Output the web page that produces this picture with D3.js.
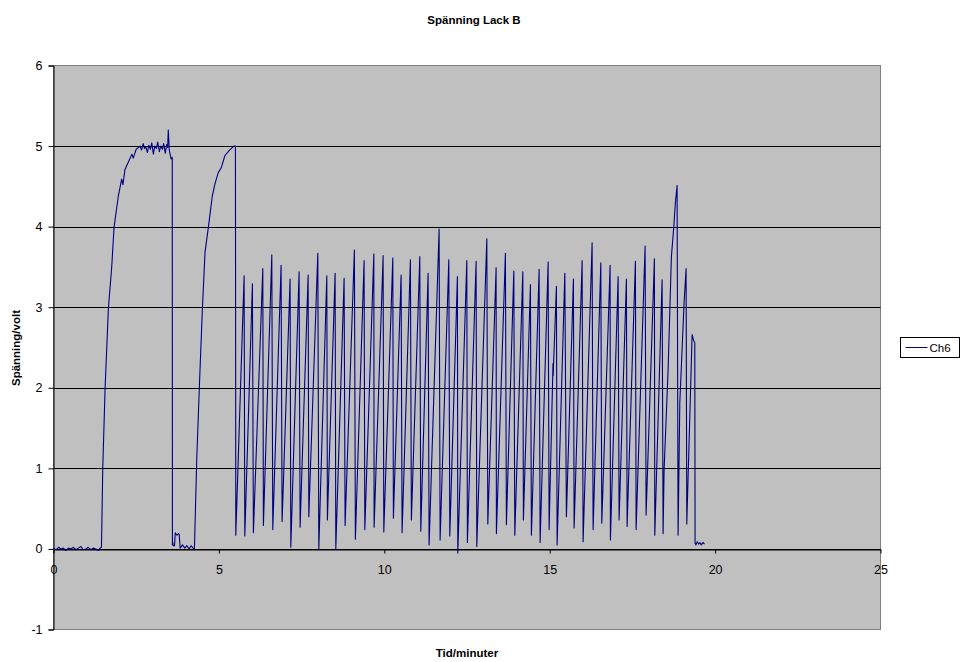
<!DOCTYPE html>
<html>
<head>
<meta charset="utf-8">
<script src="https://cdn.jsdelivr.net/npm/d3@7/dist/d3.min.js"></script>
<style>
  html, body { margin: 0; padding: 0; background: #ffffff; }
  svg { display: block; font-family: "Liberation Sans", Arial, sans-serif; }
</style>
</head>
<body>
<svg id="chart" width="961" height="662"></svg>
<script>
// Channel 6 recording: time in minutes and measured voltage
const timeMin = [
  0, 0.08, 0.15, 0.22, 0.3, 0.37, 0.45, 0.52, 0.6, 0.68, 0.75, 0.83, 0.9, 0.98, 1.05, 1.13, 1.2, 1.28, 1.35, 1.41,
  1.45, 1.49, 1.56, 1.66, 1.76, 1.83, 1.96, 2.06, 2.1, 2.16, 2.26, 2.37, 2.41, 2.5, 2.62,
  2.66, 2.71, 2.75, 2.79, 2.84, 2.88, 2.93, 2.97, 3.02, 3.06, 3.11, 3.15, 3.2, 3.24, 3.29, 3.33, 3.38, 3.42, 3.45,
  3.47, 3.5, 3.555, 3.59, 3.595, 3.6, 3.62, 3.66, 3.68, 3.73, 3.78, 3.8, 3.83,
  3.9, 3.97, 4.03, 4.1, 4.16, 4.22, 4.26,
  4.33, 4.41, 4.5, 4.58, 4.7, 4.8, 4.88, 4.98, 5.07, 5.18, 5.3, 5.45, 5.5, 5.511,
  5.762, 5.783, 6.013, 6.043, 6.327, 6.345, 6.599, 6.629, 6.88, 6.911,
  7.152, 7.174, 7.424, 7.455, 7.697, 7.718, 7.99, 8.02, 8.262, 8.28,
  8.513, 8.534, 8.785, 8.815, 9.096, 9.126, 9.389, 9.411, 9.683, 9.692,
  9.964, 9.985, 10.257, 10.275, 10.508, 10.538, 10.789, 10.819, 11.073, 11.103,
  11.324, 11.354, 11.657, 11.687, 11.95, 11.98, 12.21, 12.222, 12.494, 12.512,
  12.775, 12.796, 13.099, 13.129, 13.38, 13.389, 13.661, 13.691, 13.915, 13.945,
  14.187, 14.205, 14.417, 14.447, 14.68, 14.71, 14.952, 14.982, 15.1, 15.105, 15.203, 15.224,
  15.457, 15.505, 15.717, 15.738, 15.98, 16.01, 16.282, 16.312, 16.545, 16.575,
  16.826, 16.835, 17.068, 17.098, 17.319, 17.34, 17.591, 17.612, 17.884, 17.914,
  18.165, 18.177, 18.398, 18.428,
  18.458, 18.579, 18.679, 18.752, 18.8, 18.851, 18.881,
  18.933, 19.063, 19.123, 19.144,
  19.305, 19.356, 19.386, 19.395,
  19.42, 19.46, 19.5, 19.54, 19.58, 19.63, 19.68
];
const ch6Volt = [
  0.01, -0.01, 0.02, 0.0, 0.01, -0.02, 0.01, 0.0, 0.02, -0.01, 0.01, 0.03, -0.01, 0.0, 0.02, -0.01, 0.01, 0.0, -0.02, 0.01,
  0.02, 1.01, 2.0, 2.99, 3.5, 3.99, 4.38, 4.59, 4.52, 4.71, 4.8, 4.9, 4.85, 4.96, 5.0,
  4.95, 5.03, 4.97, 4.99, 4.92, 5.01, 4.96, 5.04, 4.9, 5.0, 4.97, 5.05, 4.93, 5.0, 4.96, 5.03, 4.91, 5.02, 4.98,
  5.2, 4.95, 4.84, 4.86, 0.05, 0.09, 0.04, 0.04, 0.2, 0.17, 0.19, 0.18, 0.01,
  0.05, 0.01, 0.04, 0.0, 0.04, 0.01, 0.0,
  1.11, 2.02, 2.97, 3.68, 4.05, 4.38, 4.53, 4.67, 4.73, 4.88, 4.94, 5.0, 5.0, 0.17,
  3.39, 0.16, 3.29, 0.2, 3.48, 0.29, 3.65, 0.24, 3.52, 0.34,
  3.35, 0.02, 3.44, 0.27, 3.4, 0.4, 3.67, 0.0, 3.39, 0.36,
  3.42, 0.0, 3.36, 0.29, 3.71, 0.12, 3.58, 0.24, 3.66, 0.27,
  3.64, 0.21, 3.61, 0.38, 3.4, 0.2, 3.59, 0.36, 3.63, 0.22,
  3.42, 0.05, 3.97, 0.11, 3.59, 0.16, 3.38, -0.05, 3.58, 0.08,
  3.57, 0.03, 3.85, 0.31, 3.49, 0.19, 3.67, 0.3, 3.45, 0.17,
  3.44, 0.36, 3.28, 0.17, 3.47, 0.08, 3.56, 0.24, 2.3, 2.15, 3.26, 0.05,
  3.42, 0.4, 3.35, 0.26, 3.58, 0.09, 3.8, 0.24, 3.55, 0.32,
  3.52, 0.11, 3.38, 0.36, 3.35, 0.28, 3.57, 0.24, 3.76, 0.42,
  3.6, 0.17, 3.34, 0.19,
  0.98, 2.22, 3.63, 4.0, 4.3, 4.51, 0.17,
  1.81, 3.06, 3.48, 0.31,
  2.66, 2.58, 2.56, 0.07,
  0.05, 0.09, 0.06, 0.08, 0.05, 0.08, 0.06
];

const xTicks = [0, 5, 10, 15, 20, 25];
const yTicks = [-1, 0, 1, 2, 3, 4, 5, 6];
const seriesName = "Ch6";
const chartTitle = "Spänning Lack B";
const xTitle = "Tid/minuter";
const yTitle = "Spänning/volt";

const svg = d3.select("#chart");
const plot = { left: 53.5, right: 880.5, top: 65.5, bottom: 629.5 };

const x = d3.scaleLinear().domain([0, 25]).range([plot.left, plot.right]);
const y = d3.scaleLinear().domain([-1, 6]).range([plot.bottom, plot.top]);

// plot area background
svg.append("rect")
  .attr("x", plot.left).attr("y", plot.top)
  .attr("width", plot.right - plot.left).attr("height", plot.bottom - plot.top)
  .attr("fill", "#c0c0c0").attr("stroke", "#808080").attr("stroke-width", 1);

// horizontal gridlines
svg.append("g").selectAll("line")
  .data(yTicks.filter(v => v > -1 && v < 6))
  .join("line")
  .attr("x1", plot.left).attr("x2", plot.right)
  .attr("y1", d => Math.round(y(d)) + 0.5).attr("y2", d => Math.round(y(d)) + 0.5)
  .attr("stroke", "#000").attr("stroke-width", 1);

// plain hyphen for negative tick labels
const fmt = d => String(d);

// y axis
const yAxis = svg.append("g")
  .attr("transform", `translate(${plot.left},0)`)
  .call(d3.axisLeft(y).tickValues(yTicks).tickSize(5).tickPadding(6).tickFormat(fmt));
yAxis.select(".domain").attr("stroke", "#000");
yAxis.selectAll(".tick line").attr("stroke", "#000");
yAxis.selectAll("text").attr("font-size", 12.5).attr("fill", "#000")
  .attr("font-family", "'Liberation Sans', Arial, sans-serif");

// x axis crossing at zero volts
const xAxis = svg.append("g")
  .attr("transform", `translate(0,${Math.round(y(0)) + 0.5})`)
  .call(d3.axisBottom(x).tickValues(xTicks).tickSize(4).tickSizeOuter(0).tickPadding(12).tickFormat(fmt));
xAxis.select(".domain").attr("stroke", "#000");
xAxis.selectAll(".tick line").attr("stroke", "#000");
xAxis.selectAll("text").attr("font-size", 12.5).attr("fill", "#000")
  .attr("font-family", "'Liberation Sans', Arial, sans-serif");

// data line
const pts = timeMin.map((t, i) => [t, ch6Volt[i]]);
const line = d3.line().x(d => x(d[0])).y(d => y(d[1]));
svg.append("path")
  .datum(pts)
  .attr("d", line)
  .attr("fill", "none")
  .attr("stroke", "#000080")
  .attr("stroke-width", 1.1)
  .attr("stroke-linejoin", "round");

// titles
svg.append("text")
  .attr("x", 474).attr("y", 24)
  .attr("text-anchor", "middle")
  .attr("font-size", 11.5).attr("font-weight", "bold")
  .text(chartTitle);

svg.append("text")
  .attr("x", 467).attr("y", 657)
  .attr("text-anchor", "middle")
  .attr("font-size", 11.5).attr("font-weight", "bold")
  .text(xTitle);

svg.append("text")
  .attr("transform", "translate(20,348) rotate(-90)")
  .attr("text-anchor", "middle")
  .attr("font-size", 11.5).attr("font-weight", "bold")
  .text(yTitle);

// legend
const legend = svg.append("g").attr("transform", "translate(900.5,337.5)");
legend.append("rect")
  .attr("width", 59).attr("height", 20)
  .attr("fill", "#fff").attr("stroke", "#000").attr("stroke-width", 1);
legend.append("line")
  .attr("x1", 5).attr("x2", 27).attr("y1", 10).attr("y2", 10)
  .attr("stroke", "#000080").attr("stroke-width", 1);
legend.append("text")
  .attr("x", 29).attr("y", 14)
  .attr("font-size", 11.5)
  .text(seriesName);
</script>
</body>
</html>
